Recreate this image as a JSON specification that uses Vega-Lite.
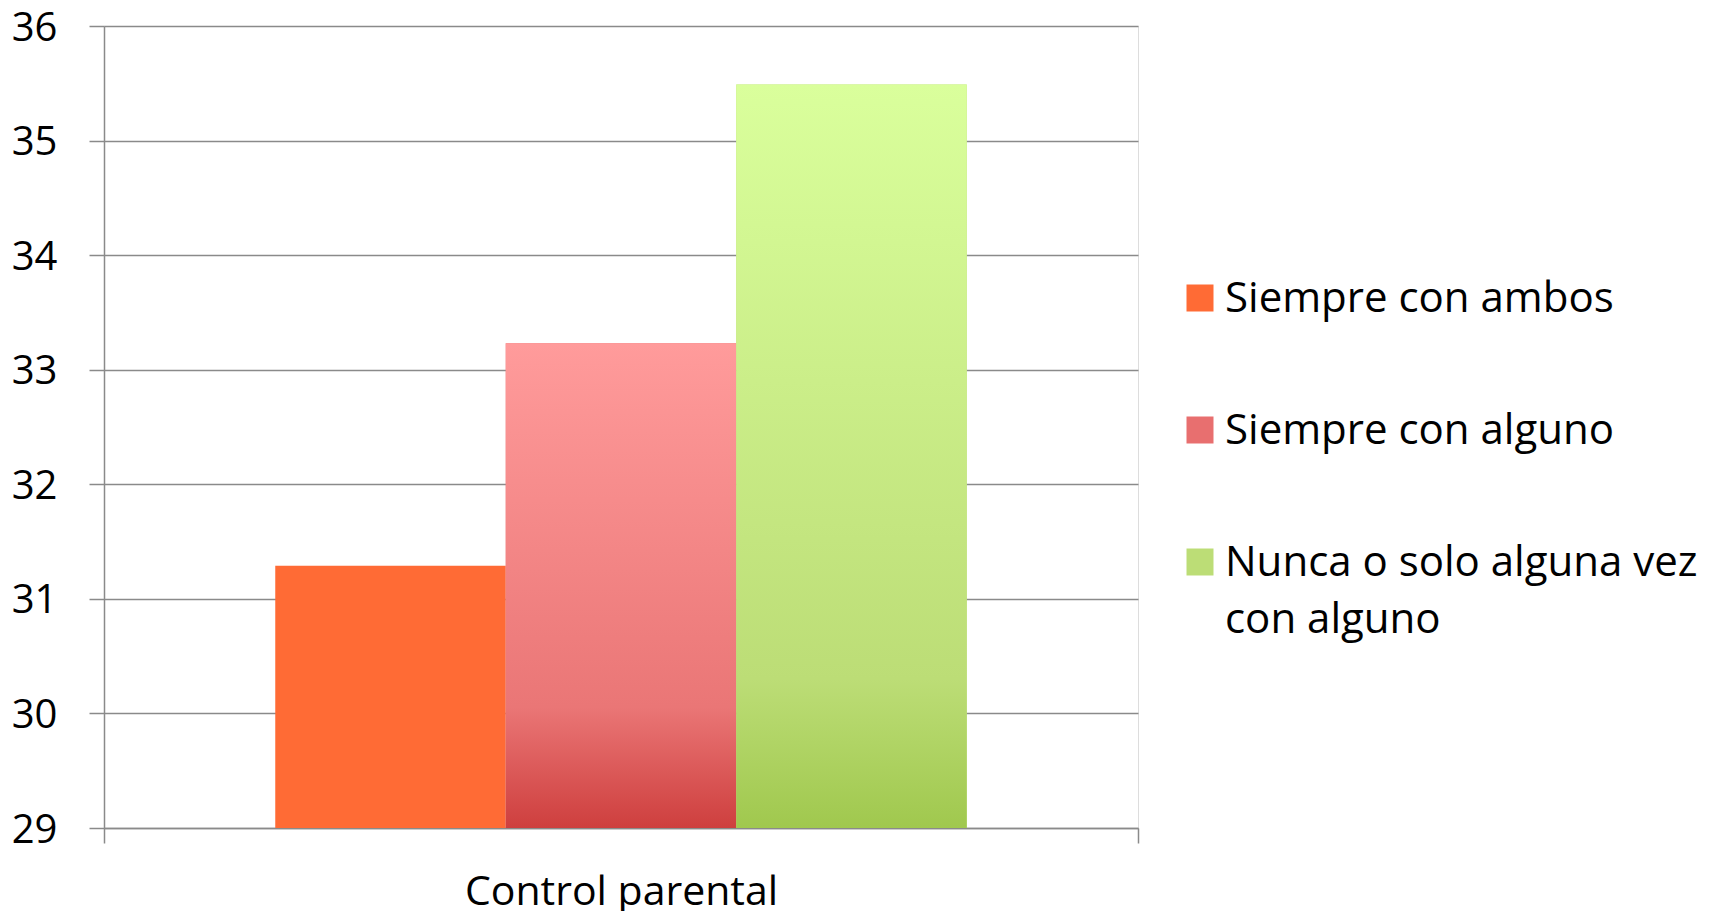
{
  "$schema": "https://vega.github.io/schema/vega-lite/v6.json",
  "autosize": "none",
  "padding": {"left": 104, "top": 26, "right": 577, "bottom": 83},
  "width": 1034,
  "height": 802,
  "background": "white",
  "data": {
    "values": [
      {"grupo": "Control parental", "serie": "Siempre con ambos", "valor": 31.29},
      {"grupo": "Control parental", "serie": "Siempre con alguno", "valor": 33.23},
      {"grupo": "Control parental", "serie": "Nunca o solo alguna vez con alguno", "valor": 35.49}
    ]
  },
  "encoding": {
    "x": {
      "field": "grupo",
      "type": "nominal",
      "title": null,
      "scale": {"paddingInner": 0, "paddingOuter": 0},
      "axis": {
        "tickBand": "extent",
        "tickSize": 15,
        "tickColor": "#8a8a8a",
        "tickWidth": 1.5,
        "domainColor": "#8a8a8a",
        "domainWidth": 1.5,
        "labelAngle": 0,
        "labelFont": "Open Sans",
        "labelFontSize": 41,
        "labelColor": "#000000",
        "labelPadding": 29,
        "labelLimit": 800,
        "labelBaseline": "top"
      }
    },
    "xOffset": {
      "field": "serie",
      "type": "nominal",
      "sort": ["Siempre con ambos", "Siempre con alguno", "Nunca o solo alguna vez con alguno"],
      "scale": {"paddingInner": 0, "paddingOuter": 0.743}
    },
    "y": {
      "field": "valor",
      "type": "quantitative",
      "title": null,
      "scale": {"domain": [29, 36], "zero": false, "nice": false},
      "axis": {
        "values": [29, 30, 31, 32, 33, 34, 35, 36],
        "tickSize": 15,
        "tickColor": "#8a8a8a",
        "tickWidth": 1.5,
        "domainColor": "#8a8a8a",
        "domainWidth": 1.5,
        "gridColor": "#8a8a8a",
        "gridWidth": 1.5,
        "labelFont": "Open Sans",
        "labelFontSize": 40,
        "labelColor": "#000000",
        "labelPadding": 32,
        "labelOffset": 2
      }
    },
    "y2": {"datum": 29}
  },
  "layer": [
    {
      "mark": {"type": "bar"},
      "encoding": {
        "color": {
          "field": "serie",
          "type": "nominal",
          "title": null,
          "sort": ["Siempre con ambos", "Siempre con alguno", "Nunca o solo alguna vez con alguno"],
          "scale": {
            "domain": ["Siempre con ambos", "Siempre con alguno", "Nunca o solo alguna vez con alguno"],
            "range": ["#FF6B35", "#E86F6F", "#BCDD76"]
          },
          "legend": {
            "orient": "none",
            "legendX": 1075,
            "legendY": 251,
            "padding": 0,
            "symbolType": "square",
            "symbolSize": 729,
            "symbolStrokeWidth": 0,
            "labelFont": "Open Sans",
            "labelFontSize": 42,
            "labelColor": "#000000",
            "labelLimit": 700,
            "labelOffset": 4,
            "rowPadding": 89,
            "labelExpr": "datum.label == 'Nunca o solo alguna vez con alguno' ? ['Nunca o solo alguna vez', 'con alguno'] : datum.label",
            "encode": {
              "labels": {"update": {"lineHeight": {"value": 57}, "dy": {"value": 1}}}
            }
          }
        }
      }
    },
    {
      "transform": [{"filter": "datum.serie == 'Siempre con alguno'"}],
      "mark": {
        "type": "bar",
        "fill": {"gradient": "linear", "x1": 0, "y1": 0, "x2": 0, "y2": 1, "stops": [{"offset": 0, "color": "#FF9B9B"}, {"offset": 0.75, "color": "#EA7676"}, {"offset": 1, "color": "#CE3F3E"}]}
      }
    },
    {
      "transform": [{"filter": "datum.serie == 'Nunca o solo alguna vez con alguno'"}],
      "mark": {
        "type": "bar",
        "fill": {"gradient": "linear", "x1": 0, "y1": 0, "x2": 0, "y2": 1, "stops": [{"offset": 0, "color": "#DAFF9C"}, {"offset": 0.8, "color": "#BCDD76"}, {"offset": 1, "color": "#A0C84E"}]}
      }
    }
  ]
}
